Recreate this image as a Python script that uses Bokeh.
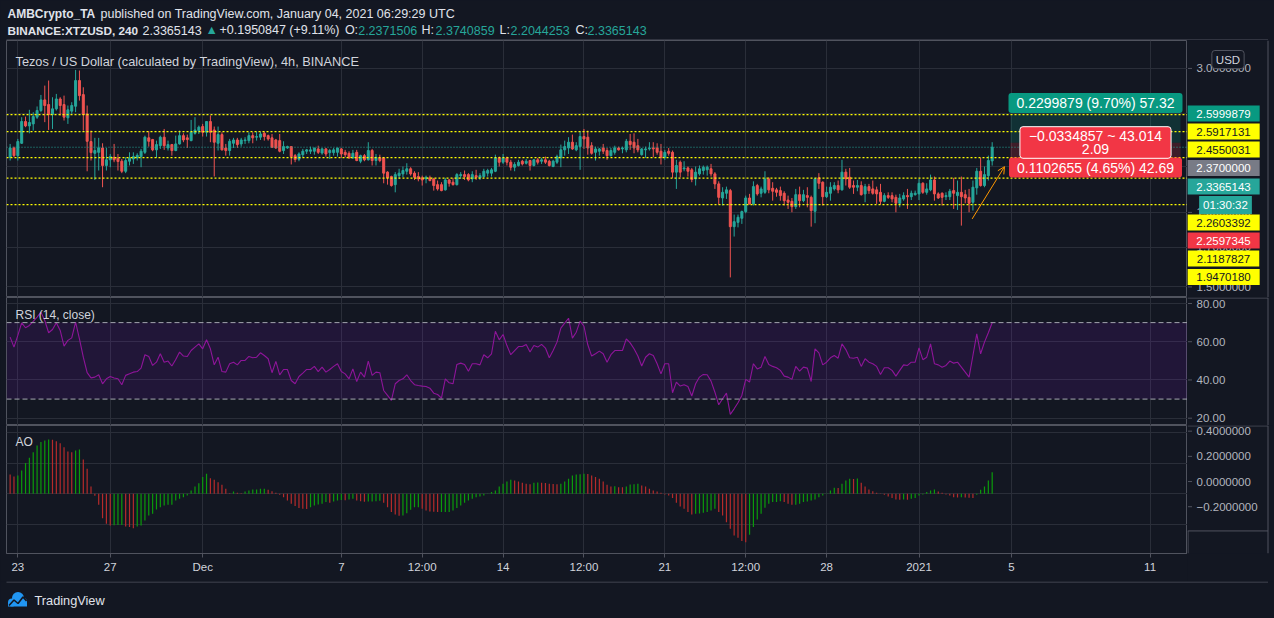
from datetime import datetime, timedelta

from bokeh.core.properties import value
from bokeh.embed import file_html
from bokeh.layouts import column, row
from bokeh.models import (Arrow, BoxAnnotation, ColumnDataSource, FixedTicker,
                          GlobalInlineStyleSheet, Label, LinearScale, OpenHead, Range1d, Span)
from bokeh.plotting import figure
from bokeh.resources import INLINE

# ---------------------------------------------------------------- data
first_bar = datetime(2020, 11, 22, 16, 0)      # 4h bars (UTC)
bar_hours = 4

opens = [
    2.263, 2.331, 2.275, 2.366, 2.535, 2.500, 2.516, 2.570, 2.625, 2.715,
    2.675, 2.592, 2.639, 2.723, 2.675, 2.565, 2.620, 2.661, 2.887, 2.761,
    2.597, 2.379, 2.292, 2.299, 2.331, 2.205, 2.245, 2.263, 2.256, 2.235,
    2.165, 2.235, 2.251, 2.259, 2.268, 2.299, 2.407, 2.394, 2.317, 2.348,
    2.412, 2.331, 2.356, 2.312, 2.361, 2.424, 2.407, 2.386, 2.442, 2.463,
    2.495, 2.450, 2.535, 2.468, 2.366, 2.432, 2.331, 2.312, 2.366, 2.391,
    2.361, 2.386, 2.386, 2.424, 2.412, 2.412, 2.442, 2.424, 2.407, 2.391,
    2.386, 2.312, 2.331, 2.341, 2.275, 2.249, 2.282, 2.307, 2.307, 2.307,
    2.324, 2.294, 2.324, 2.297, 2.297, 2.299, 2.324, 2.299, 2.292, 2.259,
    2.299, 2.235, 2.275, 2.245, 2.312, 2.240, 2.259, 2.259, 2.159, 2.129,
    2.075, 2.135, 2.147, 2.165, 2.182, 2.152, 2.129, 2.120, 2.113, 2.120,
    2.113, 2.075, 2.075, 2.041, 2.106, 2.091, 2.075, 2.135, 2.142, 2.142,
    2.113, 2.135, 2.120, 2.129, 2.152, 2.152, 2.165, 2.259, 2.228, 2.259,
    2.228, 2.193, 2.205, 2.235, 2.221, 2.240, 2.205, 2.245, 2.235, 2.245,
    2.235, 2.198, 2.228, 2.259, 2.317, 2.331, 2.374, 2.317, 2.341, 2.417,
    2.412, 2.348, 2.299, 2.307, 2.331, 2.312, 2.275, 2.299, 2.331, 2.324,
    2.317, 2.381, 2.374, 2.348, 2.282, 2.317, 2.324, 2.331, 2.331, 2.307,
    2.263, 2.307, 2.299, 2.159, 2.228, 2.182, 2.188, 2.175, 2.113, 2.147,
    2.170, 2.175, 2.182, 2.147, 2.080, 1.989, 2.019, 2.036, 1.816, 1.841,
    1.865, 1.905, 1.989, 1.952, 2.069, 2.019, 2.025, 2.113, 2.051, 2.041,
    2.036, 2.019, 1.976, 1.968, 1.935, 2.010, 1.972, 2.004, 1.993, 1.907,
    2.120, 2.091, 1.997, 2.019, 2.047, 2.069, 2.041, 2.159, 2.124, 2.069,
    2.058, 2.069, 2.015, 2.062, 2.047, 2.041, 2.025, 1.968, 2.004, 2.004,
    1.993, 1.956, 1.983, 2.004, 1.997, 2.010, 2.015, 2.084, 2.025, 2.041,
    2.106, 2.015, 2.019, 1.997, 1.997, 2.036, 2.004, 2.025, 2.010, 1.993,
    1.962, 2.054, 2.165, 2.069, 2.135, 2.2371506,
]
highs = [
    2.361, 2.341, 2.399, 2.570, 2.575, 2.631, 2.611, 2.659, 2.758, 2.841,
    2.887, 2.738, 2.767, 2.738, 2.752, 2.667, 2.695, 2.986, 2.980, 2.826,
    2.667, 2.463, 2.407, 2.407, 2.366, 2.331, 2.287, 2.361, 2.287, 2.251,
    2.263, 2.299, 2.299, 2.292, 2.324, 2.424, 2.458, 2.399, 2.386, 2.424,
    2.476, 2.386, 2.361, 2.424, 2.463, 2.442, 2.432, 2.548, 2.570, 2.503,
    2.516, 2.535, 2.584, 2.495, 2.495, 2.450, 2.361, 2.399, 2.407, 2.407,
    2.407, 2.412, 2.450, 2.450, 2.455, 2.455, 2.455, 2.432, 2.437, 2.399,
    2.437, 2.381, 2.348, 2.341, 2.287, 2.299, 2.324, 2.324, 2.341, 2.331,
    2.348, 2.331, 2.331, 2.324, 2.331, 2.331, 2.331, 2.317, 2.307, 2.317,
    2.317, 2.282, 2.287, 2.374, 2.324, 2.287, 2.282, 2.259, 2.165, 2.135,
    2.159, 2.182, 2.198, 2.221, 2.193, 2.165, 2.159, 2.135, 2.135, 2.135,
    2.120, 2.102, 2.091, 2.120, 2.113, 2.120, 2.152, 2.159, 2.170, 2.152,
    2.165, 2.175, 2.152, 2.182, 2.182, 2.188, 2.282, 2.268, 2.287, 2.268,
    2.245, 2.228, 2.245, 2.245, 2.251, 2.245, 2.251, 2.259, 2.259, 2.268,
    2.245, 2.245, 2.282, 2.356, 2.386, 2.412, 2.432, 2.374, 2.458, 2.476,
    2.463, 2.374, 2.341, 2.331, 2.361, 2.331, 2.331, 2.348, 2.341, 2.341,
    2.399, 2.437, 2.442, 2.399, 2.331, 2.341, 2.374, 2.374, 2.366, 2.361,
    2.317, 2.331, 2.312, 2.245, 2.240, 2.235, 2.198, 2.188, 2.198, 2.205,
    2.205, 2.205, 2.216, 2.159, 2.097, 2.058, 2.062, 2.047, 1.887, 1.887,
    1.911, 2.004, 2.015, 2.097, 2.080, 2.062, 2.165, 2.124, 2.091, 2.054,
    2.062, 2.032, 2.004, 1.989, 2.047, 2.062, 2.041, 2.058, 2.004, 2.120,
    2.152, 2.097, 2.062, 2.091, 2.091, 2.102, 2.245, 2.182, 2.188, 2.102,
    2.106, 2.097, 2.080, 2.080, 2.102, 2.062, 2.080, 2.019, 2.025, 2.025,
    2.010, 2.015, 2.025, 2.047, 2.036, 2.036, 2.113, 2.091, 2.084, 2.142,
    2.129, 2.025, 2.025, 2.025, 2.047, 2.120, 2.102, 2.129, 2.041, 2.047,
    2.102, 2.188, 2.259, 2.198, 2.275, 2.3740859,
]
lows = [
    2.240, 2.263, 2.240, 2.361, 2.490, 2.442, 2.463, 2.556, 2.611, 2.530,
    2.468, 2.476, 2.625, 2.584, 2.543, 2.516, 2.597, 2.611, 2.709, 2.463,
    2.165, 2.240, 2.106, 2.170, 2.058, 2.170, 2.193, 2.228, 2.170, 2.152,
    2.152, 2.205, 2.216, 2.240, 2.193, 2.287, 2.341, 2.307, 2.259, 2.324,
    2.317, 2.312, 2.275, 2.307, 2.356, 2.374, 2.331, 2.381, 2.432, 2.437,
    2.417, 2.417, 2.374, 2.129, 2.312, 2.312, 2.275, 2.275, 2.331, 2.331,
    2.341, 2.361, 2.366, 2.366, 2.386, 2.391, 2.386, 2.386, 2.331, 2.324,
    2.299, 2.287, 2.324, 2.212, 2.228, 2.235, 2.263, 2.287, 2.287, 2.282,
    2.287, 2.282, 2.268, 2.251, 2.275, 2.268, 2.259, 2.263, 2.251, 2.251,
    2.235, 2.221, 2.235, 2.240, 2.205, 2.205, 2.228, 2.084, 2.075, 2.062,
    2.025, 2.113, 2.124, 2.142, 2.135, 2.106, 2.097, 2.069, 2.084, 2.097,
    2.036, 2.036, 2.032, 2.036, 2.062, 2.069, 2.069, 2.113, 2.106, 2.097,
    2.091, 2.106, 2.106, 2.120, 2.129, 2.129, 2.159, 2.198, 2.216, 2.205,
    2.170, 2.165, 2.198, 2.205, 2.212, 2.170, 2.198, 2.212, 2.216, 2.216,
    2.198, 2.193, 2.216, 2.193, 2.275, 2.287, 2.317, 2.307, 2.175, 2.324,
    2.282, 2.282, 2.240, 2.275, 2.287, 2.245, 2.268, 2.282, 2.312, 2.292,
    2.299, 2.317, 2.292, 2.299, 2.275, 2.259, 2.312, 2.263, 2.282, 2.212,
    2.245, 2.275, 2.120, 2.047, 2.124, 2.165, 2.129, 2.091, 2.069, 2.135,
    2.142, 2.135, 2.129, 2.047, 1.948, 1.942, 1.983, 1.546, 1.760, 1.812,
    1.832, 1.895, 1.948, 1.942, 2.004, 1.993, 2.015, 2.019, 1.972, 1.997,
    1.972, 1.942, 1.921, 1.901, 1.921, 1.931, 1.962, 1.931, 1.816, 1.836,
    2.047, 1.942, 1.989, 1.972, 2.036, 2.019, 2.036, 2.069, 2.047, 2.015,
    2.032, 2.004, 1.962, 2.015, 2.010, 1.952, 1.948, 1.962, 1.983, 1.962,
    1.901, 1.931, 1.972, 1.921, 1.976, 2.004, 1.976, 2.015, 2.010, 2.032,
    1.972, 1.983, 1.942, 1.976, 1.976, 1.921, 1.915, 1.822, 1.956, 1.901,
    1.911, 2.010, 2.062, 2.058, 2.102, 2.2044253,
]
closes = [
    2.331, 2.275, 2.379, 2.535, 2.500, 2.527, 2.575, 2.625, 2.715, 2.667,
    2.592, 2.639, 2.723, 2.667, 2.570, 2.631, 2.667, 2.887, 2.752, 2.592,
    2.381, 2.297, 2.312, 2.331, 2.205, 2.245, 2.268, 2.245, 2.233, 2.165,
    2.240, 2.256, 2.268, 2.277, 2.307, 2.412, 2.381, 2.317, 2.356, 2.412,
    2.348, 2.356, 2.312, 2.361, 2.424, 2.391, 2.394, 2.450, 2.468, 2.490,
    2.450, 2.535, 2.450, 2.374, 2.432, 2.317, 2.312, 2.381, 2.391, 2.356,
    2.391, 2.391, 2.424, 2.407, 2.417, 2.437, 2.417, 2.399, 2.336, 2.331,
    2.307, 2.341, 2.341, 2.268, 2.247, 2.287, 2.307, 2.317, 2.317, 2.331,
    2.299, 2.324, 2.287, 2.312, 2.317, 2.331, 2.287, 2.282, 2.259, 2.292,
    2.240, 2.275, 2.245, 2.312, 2.240, 2.263, 2.240, 2.152, 2.120, 2.069,
    2.142, 2.152, 2.170, 2.182, 2.147, 2.124, 2.113, 2.106, 2.124, 2.102,
    2.069, 2.047, 2.036, 2.106, 2.084, 2.075, 2.142, 2.142, 2.129, 2.106,
    2.142, 2.124, 2.135, 2.165, 2.170, 2.175, 2.259, 2.228, 2.259, 2.228,
    2.193, 2.212, 2.228, 2.216, 2.235, 2.205, 2.245, 2.228, 2.245, 2.228,
    2.205, 2.235, 2.268, 2.317, 2.341, 2.374, 2.324, 2.348, 2.417, 2.399,
    2.331, 2.292, 2.324, 2.324, 2.307, 2.275, 2.312, 2.331, 2.317, 2.331,
    2.381, 2.356, 2.331, 2.317, 2.324, 2.324, 2.331, 2.324, 2.299, 2.263,
    2.299, 2.292, 2.159, 2.205, 2.159, 2.188, 2.165, 2.109, 2.159, 2.182,
    2.193, 2.193, 2.147, 2.080, 1.993, 2.025, 2.041, 1.816, 1.845, 1.871,
    1.905, 1.989, 1.952, 2.062, 2.015, 2.047, 2.113, 2.041, 2.032, 2.025,
    2.004, 1.972, 1.962, 1.935, 2.010, 1.972, 2.010, 1.993, 1.911, 2.113,
    2.084, 1.997, 2.025, 2.058, 2.069, 2.041, 2.159, 2.113, 2.058, 2.058,
    2.069, 2.010, 2.062, 2.036, 2.019, 2.015, 1.968, 2.004, 1.993, 1.983,
    1.956, 1.989, 2.004, 1.997, 2.019, 2.019, 2.084, 2.025, 2.047, 2.106,
    2.015, 1.989, 1.993, 2.004, 2.032, 2.019, 2.025, 1.997, 1.989, 1.956,
    2.058, 2.165, 2.069, 2.142, 2.240, 2.3365143,
]
rsi_values = [
    62.4, 57.2, 63.3, 69.9, 67.3, 68.5, 70.6, 72.9, 75.5, 71.1,
    64.7, 66.4, 69.9, 65.9, 57.7, 60.7, 62.0, 70.2, 61.5, 51.9,
    43.8, 41.1, 41.5, 42.7, 38.0, 40.6, 41.8, 41.0, 40.6, 37.5,
    42.4, 43.2, 44.1, 44.4, 46.2, 53.2, 52.3, 47.6, 49.3, 53.7,
    49.3, 49.9, 47.3, 50.7, 54.6, 52.5, 52.3, 55.4, 57.2, 58.9,
    56.3, 61.0, 56.3, 47.9, 51.9, 44.4, 44.1, 48.5, 49.3, 47.9,
    50.2, 50.2, 52.3, 51.6, 51.9, 54.2, 52.8, 51.1, 43.8, 49.7,
    42.7, 45.5, 45.5, 39.7, 38.0, 41.8, 43.6, 45.5, 45.5, 47.1,
    44.4, 46.7, 44.1, 45.5, 47.1, 48.5, 44.4, 43.2, 40.6, 45.8,
    39.2, 44.1, 41.5, 49.9, 42.4, 44.1, 43.8, 34.5, 31.9, 29.3,
    38.0, 39.7, 40.6, 42.7, 39.7, 37.5, 37.1, 36.8, 36.6, 35.7,
    33.1, 32.4, 30.5, 40.6, 38.5, 38.0, 48.1, 48.8, 48.1, 44.6,
    48.5, 48.5, 47.9, 53.2, 51.6, 53.7, 65.5, 61.0, 63.8, 58.0,
    53.2, 55.4, 57.5, 57.5, 58.6, 54.6, 58.0, 57.2, 58.6, 56.7,
    51.6, 55.4, 59.8, 67.1, 69.7, 72.3, 61.9, 65.0, 70.8, 68.1,
    58.4, 52.5, 53.7, 55.1, 53.7, 49.3, 53.2, 55.4, 55.4, 55.4,
    61.5, 59.4, 56.3, 52.5, 47.3, 51.9, 53.7, 52.8, 48.5, 43.2,
    48.5, 48.5, 33.3, 38.9, 36.8, 37.5, 36.6, 31.6, 38.0, 41.5,
    42.9, 42.7, 39.4, 33.6, 27.0, 30.2, 33.1, 22.0, 24.9, 28.1,
    31.9, 40.3, 38.9, 48.5, 45.8, 46.7, 52.3, 48.1, 47.1, 46.4,
    45.0, 42.0, 41.5, 40.3, 47.1, 44.6, 46.7, 46.2, 39.2, 56.3,
    54.2, 47.9, 49.3, 51.6, 52.8, 51.4, 58.9, 55.9, 51.6, 51.4,
    51.9, 47.1, 51.1, 49.3, 48.5, 47.1, 42.9, 46.4, 46.4, 45.0,
    42.0, 45.0, 47.9, 47.6, 49.3, 49.3, 56.8, 50.6, 51.9, 58.9,
    48.5, 47.9, 46.7, 47.6, 49.9, 48.8, 49.3, 46.7, 44.1, 41.5,
    52.8, 64.1, 53.7, 59.8, 64.7, 69.9,
]
ao_values = [
    0.126, 0.113, 0.119, 0.152, 0.200, 0.235, 0.271, 0.315, 0.337, 0.347,
    0.354, 0.352, 0.343, 0.330, 0.304, 0.276, 0.271, 0.282, 0.289, 0.224,
    0.163, 0.048, -0.012, -0.072, -0.159, -0.195, -0.206, -0.205, -0.204, -0.203,
    -0.213, -0.217, -0.224, -0.213, -0.206, -0.174, -0.141, -0.130, -0.102, -0.087,
    -0.076, -0.072, -0.072, -0.043, -0.033, -0.022, -0.011, 0.022, 0.048, 0.069,
    0.109, 0.130, 0.102, 0.091, 0.076, 0.059, 0.033, 0.004, 0.015, 0.007,
    0.004, 0.015, 0.022, 0.028, 0.028, 0.033, 0.033, 0.026, 0.017, 0.007,
    -0.007, -0.022, -0.043, -0.065, -0.080, -0.093, -0.098, -0.099, -0.087, -0.076,
    -0.069, -0.065, -0.054, -0.059, -0.050, -0.043, -0.040, -0.042, -0.037, -0.033,
    -0.043, -0.048, -0.052, -0.051, -0.050, -0.049, -0.045, -0.059, -0.087, -0.119,
    -0.135, -0.143, -0.141, -0.126, -0.104, -0.087, -0.087, -0.098, -0.109, -0.115,
    -0.117, -0.119, -0.119, -0.119, -0.119, -0.109, -0.093, -0.076, -0.059, -0.043,
    -0.033, -0.022, -0.017, -0.011, 0.002, 0.011, 0.022, 0.048, 0.065, 0.080,
    0.091, 0.087, 0.080, 0.072, 0.065, 0.063, 0.072, 0.073, 0.072, 0.070,
    0.065, 0.064, 0.063, 0.065, 0.080, 0.098, 0.119, 0.126, 0.127, 0.130,
    0.129, 0.119, 0.109, 0.098, 0.080, 0.059, 0.048, 0.049, 0.043, 0.042,
    0.048, 0.061, 0.062, 0.065, 0.054, 0.048, 0.033, 0.022, 0.015, 0.007,
    -0.004, -0.011, -0.028, -0.059, -0.083, -0.098, -0.119, -0.135, -0.130, -0.129,
    -0.124, -0.119, -0.109, -0.098, -0.119, -0.141, -0.185, -0.228, -0.271, -0.287,
    -0.308, -0.315, -0.267, -0.217, -0.167, -0.130, -0.091, -0.065, -0.054, -0.053,
    -0.048, -0.054, -0.065, -0.072, -0.071, -0.065, -0.054, -0.050, -0.043, -0.037,
    -0.022, -0.011, 0.002, 0.022, 0.039, 0.037, 0.065, 0.087, 0.098, 0.097,
    0.100, 0.072, 0.048, 0.028, 0.017, 0.007, -0.002, -0.007, -0.017, -0.028,
    -0.037, -0.039, -0.037, -0.038, -0.033, -0.028, -0.011, -0.004, 0.011, 0.022,
    0.028, 0.015, 0.007, -0.004, -0.011, -0.022, -0.024, -0.022, -0.024, -0.026,
    -0.028, -0.007, 0.026, 0.048, 0.087, 0.141,
]

x_tick_dates = [datetime(2020, 11, 23), datetime(2020, 11, 27), datetime(2020, 12, 1),
                datetime(2020, 12, 7), datetime(2020, 12, 10, 12), datetime(2020, 12, 14),
                datetime(2020, 12, 17, 12), datetime(2020, 12, 21), datetime(2020, 12, 24, 12),
                datetime(2020, 12, 28), datetime(2021, 1, 1), datetime(2021, 1, 5),
                datetime(2021, 1, 11)]
x_tick_labels = ["23", "27", "Dec", "7", "12:00", "14", "12:00", "21", "12:00", "28",
                 "2021", "5", "11"]
price_ticks = [1.5, 1.7, 1.9, 2.2, 2.6, 3.0]
price_tick_labels = ["1.5000000", "1.7000000", "1.9000000", "2.2000000", "2.6000000",
                     "3.0000000"]
rsi_ticks = [20, 40, 60, 80]
rsi_tick_labels = ["20.00", "40.00", "60.00", "80.00"]
ao_ticks = [-0.2, 0.0, 0.2, 0.4]
ao_tick_labels = ["\u22120.2000000", "0.0000000", "0.2000000", "0.4000000"]

level_lines = [2.5917131, 2.4550031, 2.2603392, 2.1187827, 1.9470180]
last_price = 2.3365143
entry_price = 2.37
target_price = 2.5999879
stop_price = 2.2597345
position_start = datetime(2021, 1, 4, 23, 0)
position_end = datetime(2021, 1, 12, 7, 40)
arrow_from = (datetime(2021, 1, 3, 7, 12), 1.861)
arrow_to = (datetime(2021, 1, 4, 16, 48), 2.197)

view_start = datetime(2020, 11, 22, 12, 14)
view_end = datetime(2021, 1, 12, 14, 52)
price_view = (1.4505, 3.278)
rsi_view = (16.18, 83.14)
ao_view = (-0.389, 0.445)
ao_scale_view = (-0.5714, 0.445)   # same px/unit, frame also covers the time-axis row

# ---------------------------------------------------------------- style
BG = "#131722"
GRID = "#2a2e39"
FRAME = "#50535e"
TXT = "#d1d4dc"
AXT = "#b2b5be"
UP = "#26a69a"
DN = "#ef5350"
AO_UP = "#0b9b0b"
AO_DN = "#b52b2b"
RSI_C = "#8e1599"
ORANGE = "#ff9800"
FONT = "Liberation Sans"
MAIN_W = 1187
SCALE_W = 86
W = MAIN_W + SCALE_W


def ms(dt):
    return (dt - datetime(1970, 1, 1)).total_seconds() * 1000.0


DAY_MS = 86400000.0
px_per_day = 23.107
body_w = 2.0 / px_per_day * DAY_MS

t = [ms(first_bar + timedelta(hours=bar_hours * i)) for i in range(len(closes))]
xr = Range1d(ms(view_start), ms(view_end))
x_ticks = [ms(d) for d in x_tick_dates]


def main_fig(height, y_range, y_type="linear", bottom=0):
    p = figure(width=MAIN_W, height=height, x_range=xr, y_range=y_range,
               y_axis_type=y_type, x_axis_type="datetime",
               x_axis_location=None if bottom == 0 else "below", y_axis_location=None,
               toolbar_location=None, output_backend="svg",
               min_border_left=6, min_border_top=0, min_border_bottom=bottom,
               min_border_right=0,
               background_fill_color=BG, border_fill_color=BG,
               outline_line_color=FRAME, outline_line_width=1)
    p.xgrid.ticker = FixedTicker(ticks=x_ticks)
    p.grid.grid_line_color = GRID
    p.grid.grid_line_width = 1
    return p


def scale_fig(height, y_range, ticks, tick_labels, y_type="linear", top_line=True,
              time_row=0):
    f = figure(width=SCALE_W, height=height, x_range=Range1d(0, SCALE_W), y_range=y_range,
               y_axis_type=y_type, x_axis_location=None, y_axis_location=None,
               toolbar_location=None, output_backend="svg", min_border=0,
               outline_line_color=None, background_fill_color=BG, border_fill_color=BG)
    f.grid.grid_line_color = None
    f.extra_y_ranges = {"px": Range1d(height, 0)}
    f.extra_y_scales = {"px": LinearScale()}
    n = len(ticks)
    f.segment(x0=[0.5] * n, x1=[4.5] * n, y0=ticks, y1=ticks, line_color=FRAME,
              line_width=1)
    f.text(x=[9] * n, y=ticks, text=tick_labels, text_font=value(FONT),
           text_font_size="11.5px", text_color=AXT, text_baseline="middle",
           text_align="left")
    xs0, ys0, xs1, ys1 = [80.5], [0], [80.5], [height]
    if top_line:
        xs0.append(0); ys0.append(0.5); xs1.append(80.5); ys1.append(0.5)
    if time_row:
        yt = height - time_row + 0.5
        xs0 += [0, 0.5]; ys0 += [yt, yt]; xs1 += [80.5, 0.5]; ys1 += [yt, height]
    f.segment(x0=xs0, y0=ys0, x1=xs1, y1=ys1, line_color=FRAME, line_width=1,
              y_range_name="px")
    return f


def lab(fig, x, y, text, size="12px", color=TXT, bg=None, bold=False, align="left",
        pad=0, border=None, radius=0, units="screen", line_height=1.2):
    fig.add_layout(Label(x=x, y=y, x_units=units, y_units=units, text=text,
                         text_font=FONT, text_font_size=size, text_color=color,
                         text_font_style="bold" if bold else "normal",
                         text_align=align, text_baseline="middle",
                         background_fill_color=bg, border_line_color=border,
                         padding=pad, border_radius=radius,
                         text_line_height=line_height))


# ---------------------------------------------------------------- header
hdr = figure(width=W, height=40, x_range=Range1d(0, W), y_range=Range1d(40, 0),
             toolbar_location=None, output_backend="svg", x_axis_location=None,
             y_axis_location=None, min_border=0, outline_line_color=None,
             background_fill_color=BG, border_fill_color=BG)
hdr.grid.grid_line_color = None
hdr.line([6, 1267.5], [39.5, 39.5], line_color=FRAME, line_width=1)
HW = "#e0e3eb"
lab(hdr, 7, 13, "AMBCrypto_TA", size="12px", color=HW, bold=True, units="data")
lab(hdr, 100, 13, "published on TradingView.com, January 04, 2021 06:29:29 UTC",
    size="12.5px", color=HW, units="data")
lab(hdr, 7, 29.5, "BINANCE:XTZUSD, 240", size="11.75px", color=HW, bold=True, units="data")
line2 = [(142, "2.3365143", HW), (205, "\u25b2", UP), (219, "+0.1950847 (+9.11%)", HW),
         (344.4, "O:", HW), (357.7, "2.2371506", UP), (421, "H:", HW), (435, "2.3740859", UP),
         (499, "L:", HW), (510, "2.2044253", UP), (575, "C:", HW), (587, "2.3365143", UP)]
for x, s, c in line2:
    lab(hdr, x, 29.5, s, size="12.5px", color=c, units="data")

# ---------------------------------------------------------------- price pane
price_yr = Range1d(*price_view)
price = main_fig(257, price_yr, y_type="log")
price.ygrid.ticker = FixedTicker(ticks=price_ticks)

price.quad(left=[ms(position_start)], right=[ms(position_end)], bottom=[entry_price],
           top=[target_price], fill_color="#089981", fill_alpha=0.2, line_color=None)
price.quad(left=[ms(position_start)], right=[ms(position_end)], bottom=[stop_price],
           top=[entry_price], fill_color="#f23645", fill_alpha=0.2, line_color=None)

colors = [UP if c >= o else DN for o, c in zip(opens, closes)]
src = ColumnDataSource(dict(t=t, o=opens, h=highs, l=lows, c=closes,
                            top=[max(o, c) for o, c in zip(opens, closes)],
                            bot=[min(o, c) for o, c in zip(opens, closes)], col=colors))
price.segment(x0="t", y0="l", x1="t", y1="h", line_color="col", line_width=1, source=src)
price.vbar(x="t", width=body_w, top="top", bottom="bot", fill_color="col",
           line_color="col", line_width=1, source=src)

for v in level_lines:
    price.add_layout(Span(location=v, dimension="width", line_color="#ffff00",
                          line_dash="2 2", line_width=1.2))
price.add_layout(Span(location=last_price, dimension="width", line_color=UP,
                      line_dash="1 2", line_width=1))
price.add_layout(Arrow(end=OpenHead(size=7, line_color=ORANGE, line_width=1),
                       x_start=ms(arrow_from[0]), y_start=arrow_from[1],
                       x_end=ms(arrow_to[0]), y_end=arrow_to[1],
                       line_color=ORANGE, line_width=1))

lab(price, 9, 236, "Tezos / US Dollar (calculated by TradingView), 4h, BINANCE",
    size="12.75px", color=TXT)

# position-tool labels
lab(price, 1089, 194.5, "%.7f (%.2f%%) 57.32" % (target_price - entry_price,
                                                100 * (target_price - entry_price) / entry_price),
    size="14px", color="#ffffff", bg="#089981", align="center", pad=(8, 2), radius=3)
lab(price, 1089, 130, "%.7f (%.2f%%) 42.69" % (entry_price - stop_price,
                                              100 * (entry_price - stop_price) / entry_price),
    size="14px", color="#ffffff", bg="#f23645", align="center", pad=(8, 2), radius=3)
lab(price, 1089, 155, "\u22120.0334857 ~ 43.014\n2.09", size="14px", color="#ffffff",
    bg="#f23645", align="center", pad=(9, 1), border="#ffffff", radius=3, line_height=0.85)

# price scale with its coloured labels
pscale = scale_fig(257, price_yr, price_ticks, price_tick_labels, y_type="log",
                   top_line=False)
scale_labels = [
    ("%.7f" % target_price, 184, "#089981", "#ffffff"),
    ("%.7f" % level_lines[0], 166, "#ffff00", "#131722"),
    ("%.7f" % level_lines[1], 148, "#ffff00", "#131722"),
    ("%.7f" % entry_price, 129.4, "#787b86", "#ffffff"),
    ("%.7f" % last_price, 111, UP, "#ffffff"),
    ("%.7f" % level_lines[2], 75, "#ffff00", "#131722"),
    ("%.7f" % stop_price, 57, "#f23645", "#ffffff"),
    ("%.7f" % level_lines[3], 39, "#ffff00", "#131722"),
    ("%.7f" % level_lines[4], 20.5, "#ffff00", "#131722"),
]
for s, y, bg, fg in scale_labels:
    lab(pscale, 36, y, s, size="11.5px", color=fg, bg=bg, align="center", pad=(9, 4))
lab(pscale, 38, 92.5, "01:30:32", size="11.5px", color="#ffffff", bg=UP, align="center",
    pad=(4, 3))
lab(pscale, 40.5, 238, "USD", size="11.5px", color=TXT, bg=BG, align="center",
    pad=(4, 3), border=FRAME, radius=3)

# ---------------------------------------------------------------- RSI pane
rsi_yr = Range1d(*rsi_view)
rsi_fig = main_fig(128, rsi_yr)
rsi_fig.ygrid.ticker = FixedTicker(ticks=rsi_ticks)
rsi_fig.add_layout(BoxAnnotation(bottom=30, top=70, fill_color="#9915ff", fill_alpha=0.1,
                                 line_color=None, level="underlay"))
for lv in (70, 30):
    rsi_fig.add_layout(Span(location=lv, dimension="width", line_color="#a3a6af",
                            line_dash="5 3", line_width=1))
rsi_fig.line(t, rsi_values, line_color=RSI_C, line_width=1.1)
lab(rsi_fig, 9, 111, "RSI (14, close)", size="12px", color=TXT)
rscale = scale_fig(128, rsi_yr, rsi_ticks, rsi_tick_labels)

# ---------------------------------------------------------------- AO pane + time axis
ao_fig = main_fig(156, Range1d(*ao_view), bottom=28)
ao_fig.ygrid.ticker = FixedTicker(ticks=ao_ticks)
ao_col = [AO_DN] + [AO_UP if ao_values[i] >= ao_values[i - 1] else AO_DN
                    for i in range(1, len(ao_values))]
ao_src = ColumnDataSource(dict(t=t, v=ao_values, z=[0.0] * len(ao_values), col=ao_col))
ao_fig.segment(x0="t", y0="z", x1="t", y1="v", line_color="col", line_width=1.2,
               source=ao_src)
xa = ao_fig.xaxis[0]
xa.ticker = FixedTicker(ticks=x_ticks)
xa.major_label_overrides = dict(zip(x_ticks, x_tick_labels))
xa.axis_line_color = FRAME
xa.major_tick_line_color = FRAME
xa.major_tick_out = 4
xa.major_tick_in = 0
xa.minor_tick_line_color = None
xa.major_label_standoff = 3
xa.major_label_text_font = FONT
xa.major_label_text_font_size = "11.5px"
xa.major_label_text_color = TXT
lab(ao_fig, 9, 112, "AO", size="12px", color=TXT)
ascale = scale_fig(156, Range1d(*ao_scale_view), ao_ticks, ao_tick_labels, time_row=28)

# ---------------------------------------------------------------- footer
ftr = figure(width=W, height=36, x_range=Range1d(0, W), y_range=Range1d(36, 0),
             toolbar_location=None, output_backend="svg", x_axis_location=None,
             y_axis_location=None, min_border=0, outline_line_color=None,
             background_fill_color=BG, border_fill_color=BG)
ftr.grid.grid_line_color = None
ftr.line([6, 1267.5], [0.5, 0.5], line_color=FRAME, line_width=1)
ftr.circle(x=[11.5, 17.5, 22.5], y=[21, 16.5, 20.5], radius=[4.0, 6.0, 4.0],
           fill_color="#2196f3", line_color=None)
ftr.quad(left=[7.5], right=[26.5], top=[21], bottom=[25], fill_color="#2196f3",
         line_color=None)
ftr.line([8.5, 13.5, 17.5, 22.5, 26], [24, 18.5, 22, 15.5, 19.5], line_color=BG,
         line_width=1.6)
lab(ftr, 34, 19, "TradingView", size="12.75px", color="#e0e3eb", units="data")

layout = column(hdr, row(price, pscale, spacing=0), row(rsi_fig, rscale, spacing=0),
                row(ao_fig, ascale, spacing=0), ftr, spacing=0)
layout.stylesheets = [GlobalInlineStyleSheet(css="html, body { background-color: #131722; }")]

open("out.html", "w").write(file_html(layout, INLINE))
